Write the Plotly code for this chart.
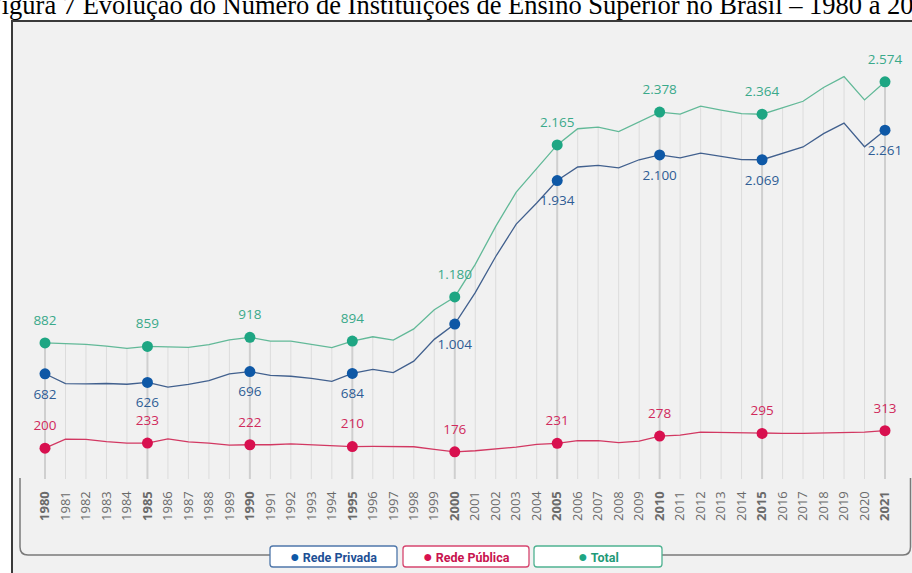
import plotly.graph_objects as go

# ---------------- data ----------------
years = list(range(1980, 2022))
total = [882, 876, 873, 861, 847, 859, 855, 853, 871, 902, 918, 893, 893, 873, 851,
         894, 922, 900, 973, 1097, 1180, 1391, 1637, 1859, 2013, 2165, 2270, 2281,
         2252, 2314, 2378, 2365, 2416, 2391, 2368, 2364, 2407, 2448, 2537, 2608,
         2457, 2574]
privada = [682, 618, 616, 619, 614, 626, 595, 613, 638, 682, 696, 671, 666, 652, 633,
           684, 711, 689, 764, 905, 1004, 1208, 1442, 1652, 1789, 1934, 2022, 2032,
           2016, 2069, 2100, 2081, 2112, 2090, 2070, 2069, 2111, 2152, 2238, 2306,
           2153, 2261]
publica = [200, 258, 257, 242, 233, 233, 260, 240, 233, 220, 222, 222, 227, 221, 218,
           210, 211, 211, 209, 192, 176, 183, 195, 207, 224, 231, 248, 249, 236, 245,
           278, 284, 304, 301, 298, 295, 296, 296, 299, 302, 304, 313]
marked_years = [1980, 1985, 1990, 1995, 2000, 2005, 2010, 2015, 2021]
series_names = ["Rede Privada", "Rede Pública", "Total"]
title_text = "Figura 7 Evolução do Número de Instituições de Ensino Superior no Brasil – 1980 a 2021"

# ---------------- styling ----------------
W, H = 912, 573
OFF = 0  # body margin removed via post_script
C_TOT_M, C_TOT_L, C_TOT_T = "#1ea683", "#62b998", "#3aa98a"
C_PRI_M, C_PRI_L, C_PRI_T = "#0e58a6", "#41608e", "#2f5d95"
C_PUB_M, C_PUB_L, C_PUB_T = "#d8104f", "#d23862", "#d02a5c"


def px(x):
    return (x - OFF) / W


def py(y):
    return 1 - (y - OFF) / H


def fmt(v):
    return f"{v:,}".replace(",", ".")


idx = {y: i for i, y in enumerate(years)}

fig = go.Figure()

# drop lines (vertical guides) from 0 to total
gx, gy, bx, by = [], [], [], []
for y, t in zip(years, total):
    if y in marked_years:
        bx += [y, y, None]
        by += [0, t, None]
    else:
        gx += [y, y, None]
        gy += [0, t, None]
fig.add_trace(go.Scatter(x=gx, y=gy, mode="lines", line=dict(color="#dcdcdc", width=1),
                         hoverinfo="skip", showlegend=False))
fig.add_trace(go.Scatter(x=bx, y=by, mode="lines", line=dict(color="#cfcfcf", width=2),
                         hoverinfo="skip", showlegend=False))

# lines
for vals, col in [(total, C_TOT_L), (privada, C_PRI_L), (publica, C_PUB_L)]:
    fig.add_trace(go.Scatter(x=years, y=vals, mode="lines", line=dict(color=col, width=1.3),
                             hoverinfo="skip", showlegend=False))

# markers + labels
for vals, mcol, tcol, pos, name in [
    (total, C_TOT_M, C_TOT_T, "top center", "Total"),
    (privada, C_PRI_M, C_PRI_T, "bottom center", "Rede Privada"),
    (publica, C_PUB_M, C_PUB_T, "top center", "Rede Pública"),
]:
    mv = [vals[idx[y]] for y in marked_years]
    # labels (offset via an invisible larger marker)
    fig.add_trace(go.Scatter(
        x=marked_years, y=mv, mode="markers+text",
        marker=dict(color="rgba(0,0,0,0)", size=22),
        text=[fmt(v) for v in mv], textposition=pos,
        textfont=dict(family="Open Sans", size=13.5, color=tcol),
        cliponaxis=False, showlegend=False, hoverinfo="skip"))
    fig.add_trace(go.Scatter(
        x=marked_years, y=mv, mode="markers", name=name,
        marker=dict(color=mcol, size=11),
        cliponaxis=False, showlegend=False))

ticktext = [f"<b>{y}</b>" if y in marked_years else str(y) for y in years]

SX = 20.488  # px per year
KY = 0.1543  # px per unit
X1980, Y0 = 45, 479
xr = [1978.2, 2022.3]
yr = [0, 2900]
fig.update_layout(
    width=W, height=H,
    margin=dict(l=0, r=0, t=0, b=0),
    paper_bgcolor="white", plot_bgcolor="rgba(0,0,0,0)",
    xaxis=dict(domain=[px(X1980 + (xr[0] - 1980) * SX), px(X1980 + (xr[1] - 1980) * SX)],
               range=xr,
               tickmode="array", tickvals=years, ticktext=ticktext, tickangle=-90,
               tickfont=dict(family="Open Sans", size=13, color="#6a6a6a"),
               ticks="outside", ticklen=6, tickcolor="rgba(0,0,0,0)",
               showgrid=False, zeroline=False, showline=False, fixedrange=True),
    yaxis=dict(domain=[py(Y0), py(Y0 - yr[1] * KY)], range=yr,
               visible=False, showgrid=False, zeroline=False, fixedrange=True),
    showlegend=False,
)

shapes = []
# outer frame
shapes.append(dict(type="rect", xref="paper", yref="paper", layer="below",
                   x0=px(12), x1=px(960), y0=py(21), y1=py(640),
                   fillcolor="#f1f1f1", line=dict(color="#3a3a3a", width=2)))
# bracket line under the axis
lp = (f"M {px(20)},{py(478)} L {px(20)},{py(547)} Q {px(20)},{py(555)} {px(28)},{py(555)} "
      f"L {px(270)},{py(555)}")
rp = (f"M {px(662)},{py(555)} L {px(903)},{py(555)} Q {px(910.5)},{py(555)} {px(910.5)},{py(547)} "
      f"L {px(910.5)},{py(478)}")
for p in (lp, rp):
    shapes.append(dict(type="path", xref="paper", yref="paper", path=p, layer="below",
                       line=dict(color="#7a7a7a", width=1.5)))


def rrect(x0, y0, x1, y1, r=3):
    return (f"M {px(x0 + r)},{py(y0)} L {px(x1 - r)},{py(y0)} Q {px(x1)},{py(y0)} {px(x1)},{py(y0 + r)} "
            f"L {px(x1)},{py(y1 - r)} Q {px(x1)},{py(y1)} {px(x1 - r)},{py(y1)} "
            f"L {px(x0 + r)},{py(y1)} Q {px(x0)},{py(y1)} {px(x0)},{py(y1 - r)} "
            f"L {px(x0)},{py(y0 + r)} Q {px(x0)},{py(y0)} {px(x0 + r)},{py(y0)} Z")


legend_cols = [(C_PRI_M, "#1d4f95", "#4f77aa"), (C_PUB_M, "#c8134f", "#d6456f"),
               (C_TOT_M, "#1f9a78", "#4fb291")]
boxes = [(270, 397), (403, 529), (534, 662)]
for (x0, x1), (_, _, bc) in zip(boxes, legend_cols):
    shapes.append(dict(type="path", xref="paper", yref="paper", path=rrect(x0, 546, x1, 567),
                       fillcolor="white", line=dict(color=bc, width=1.3), layer="above"))
fig.update_layout(shapes=shapes)

annotations = [dict(x=px(-15), y=py(22), xref="paper", yref="paper", xanchor="left",
                    yanchor="bottom", text=title_text, showarrow=False,
                    font=dict(family="Liberation Serif", size=26.5, color="black"))]
for name, (mc, tc, bc), (x0, x1) in zip(series_names, legend_cols, boxes):
    annotations.append(dict(
        x=px((x0 + x1) / 2), y=py(556.5), xref="paper", yref="paper",
        xanchor="center", yanchor="middle",
        text=f"<span style='color:{mc};font-size:16px'>●</span> <b>{name}</b>",
        showarrow=False,
        font=dict(family="Roboto", size=12.5, color=tc)))
fig.update_layout(annotations=annotations)

fig.write_html("out.html", config={"displayModeBar": False},
               post_script="document.body.style.margin='0';document.body.style.overflow='hidden';")
